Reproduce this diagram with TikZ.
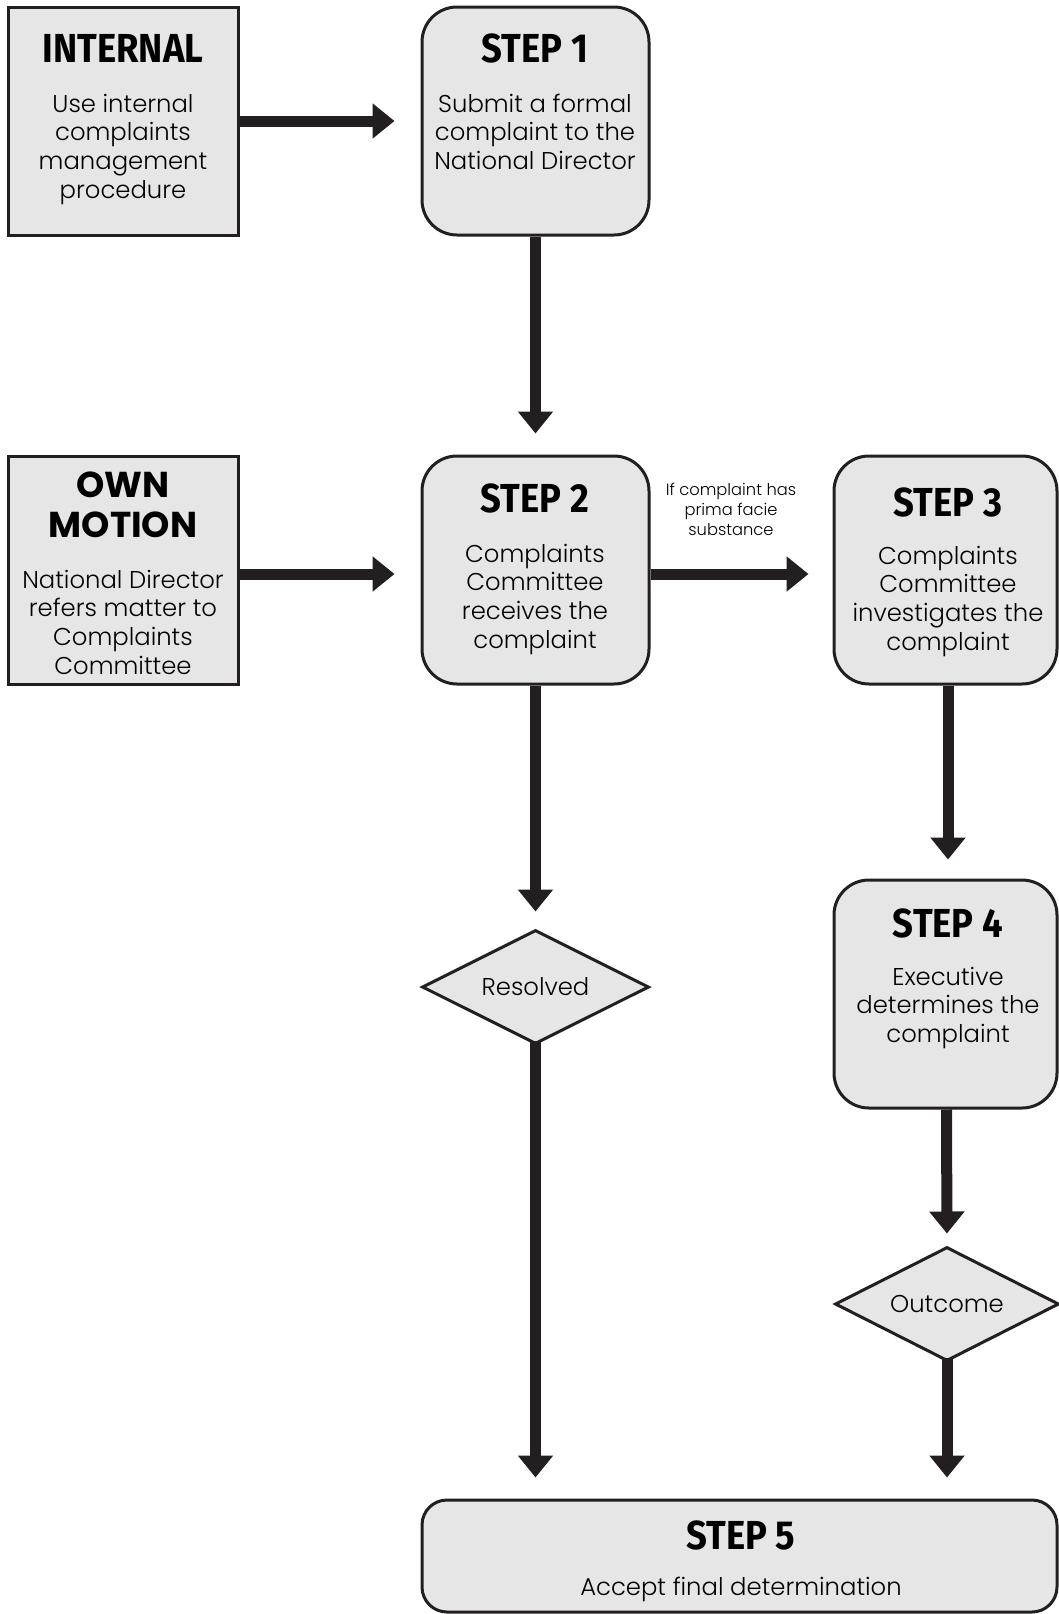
\documentclass[tikz,border=0pt]{standalone}
\usepackage{fontspec}
\usetikzlibrary{arrows.meta,shapes.geometric}
\newfontfamily\bodyfont{Poppins Light}
\newfontfamily\heavyfont{Poppins}
\newfontfamily\titlefont[FakeStretch=0.9]{Fira Sans}
\definecolor{ink}{HTML}{231F20}
\definecolor{boxfill}{HTML}{E6E6E6}
\newcommand\bodytext[2][260pt]{\parbox[t]{#1}{\centering\bodyfont\fontsize{24.3}{28.8}\selectfont #2}}
\newcommand\smalltext[1]{\parbox[t]{160pt}{\centering\bodyfont\fontsize{16.3}{20}\selectfont #1}}
\begin{document}
\begin{tikzpicture}[x=1pt,y=-1pt,
  sqbox/.style={draw=ink, fill=boxfill, line width=3pt, inner sep=0pt},
  rbox/.style={sqbox, rounded corners=35pt},
  dbox/.style={draw=ink, fill=boxfill, line width=3pt, diamond, inner sep=0pt, aspect=2,
    font=\bodyfont\fontsize{24.3}{28.8}\selectfont},
  ttl/.style={anchor=base, inner sep=0pt, font=\titlefont\bfseries\fontsize{40.5}{44}\selectfont},
  heavy/.style={anchor=base, inner sep=0pt, font=\heavyfont\bfseries\fontsize{36}{40}\selectfont},
  bdy/.style={anchor=base, inner sep=0pt},
  arr/.style={draw=ink, line width=11pt, -{Triangle[width=34pt,length=22pt]}}]
\useasboundingbox (0,0) rectangle (1059,1614);

% boxes
\node[sqbox, minimum width=230pt, minimum height=228pt] (internal) at (123,121) {};
\node[rbox, minimum width=227pt, minimum height=228pt] (step1) at (535.5,121) {};
\node[sqbox, minimum width=230pt, minimum height=228pt] (own) at (123,570) {};
\node[rbox, minimum width=227pt, minimum height=228pt] (step2) at (535.5,570) {};
\node[rbox, minimum width=223pt, minimum height=228pt] (step3) at (945.5,570) {};
\node[rbox, minimum width=223pt, minimum height=228pt] (step4) at (945.5,994) {};
\node[rbox, rounded corners=25pt, minimum width=635pt, minimum height=112pt] (step5) at (739.5,1556) {};
\node[dbox, minimum width=227pt, minimum height=114pt] (resolved) at (535.5,987) {Resolved};
\node[dbox, minimum width=224pt, minimum height=114pt] (outcome) at (947,1304) {Outcome};

% texts
\node[ttl] (internalT) at (123,62) {INTERNAL};
\node[bdy] (internalB) at (123,112) {\bodytext{Use internal\\complaints\\management\\procedure}};
\node[ttl] (step1T) at (535,62) {STEP 1};
\node[bdy] (step1B) at (535,112) {\bodytext{Submit a formal\\complaint to the\\National Director}};
\node[heavy] (ownT1) at (123,497) {OWN};
\node[heavy] (ownT2) at (123,537) {MOTION};
\node[bdy] (ownB) at (123,588) {\bodytext{National Director\\refers matter to\\Complaints\\Committee}};
\node[ttl] (step2T) at (535,512) {STEP 2};
\node[bdy] (step2B) at (535,562) {\bodytext{Complaints\\Committee\\receives the\\complaint}};
\node[ttl] (step3T) at (948,516) {STEP 3};
\node[bdy] (step3B) at (948,564) {\bodytext{Complaints\\Committee\\investigates the\\complaint}};
\node[ttl] (step4T) at (948,937) {STEP 4};
\node[bdy] (step4B) at (948,985) {\bodytext{Executive\\determines the\\complaint}};
\node[ttl] (step5T) at (741,1549) {STEP 5};
\node[bdy] (step5B) at (741,1595) {\bodytext[500pt]{Accept final determination}};
\node[bdy] (cond) at (731,495) {\smalltext{If complaint has\\prima facie\\substance}};

% connectors
\draw[arr, shorten >=26pt] (internal.east) -- (step1.west);
\draw[arr, shorten >=21pt] (step1.south) -- (step2.north);
\draw[arr, shorten >=26pt] ([yshift=-4pt]own.east) -- ([yshift=-4pt]step2.west);
\draw[arr, shorten >=24pt] ([yshift=-4pt]step2.east) -- ([yshift=-4pt]step3.west);
\draw[arr, shorten >=19pt] ([xshift=2.5pt]step3.south) -- ([xshift=2.5pt]step4.north);
\draw[arr, shorten >=17pt] (step2.south) -- (resolved.north);
\draw[arr, shorten >=12pt] ([xshift=1pt]step4.south) -- (outcome.north);
\draw[arr, shorten <=-5pt, shorten >=21pt] (resolved.south) -- (resolved.south |- step5.north);
\draw[arr, shorten <=-5pt, shorten >=21pt] (outcome.south) -- (outcome.south |- step5.north);
\end{tikzpicture}
\end{document}
